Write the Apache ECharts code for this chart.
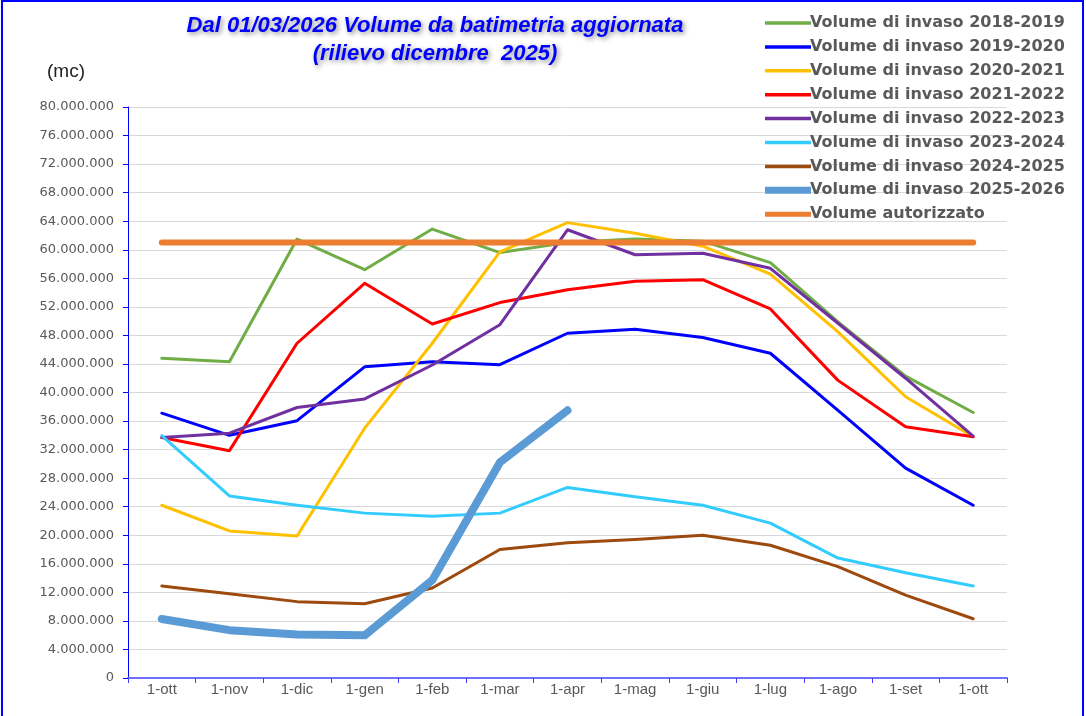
<!DOCTYPE html>
<html>
<head>
<meta charset="utf-8">
<script src="https://cdn.jsdelivr.net/npm/echarts@6/dist/echarts.min.js"></script>
<style>
html,body{margin:0;padding:0;background:#fff;}
#chart{width:1086px;height:716px;}
</style>
</head>
<body>
<div id="chart"></div>
<script>
const categories = ['1-ott','1-nov','1-dic','1-gen','1-feb','1-mar','1-apr','1-mag','1-giu','1-lug','1-ago','1-set','1-ott'];
const yTicks = [0,4000000,8000000,12000000,16000000,20000000,24000000,28000000,32000000,36000000,40000000,44000000,48000000,52000000,56000000,60000000,64000000,68000000,72000000,76000000,80000000];

const s2018 = [44800000,44300000,61500000,57200000,62900000,59600000,61000000,61500000,61200000,58200000,49900000,42300000,37200000];
const s2019 = [37100000,34000000,36050000,43600000,44300000,43900000,48300000,48850000,47700000,45500000,37500000,29400000,24200000];
const s2020 = [24200000,20600000,19900000,35000000,46900000,59700000,63800000,62300000,60500000,56600000,48500000,39400000,33800000];
const s2021 = [33700000,31850000,46900000,55300000,49600000,52600000,54400000,55600000,55800000,51700000,41700000,35200000,33800000];
const s2022 = [33700000,34300000,37900000,39100000,43850000,49500000,62800000,59300000,59500000,57400000,49700000,42000000,33900000];
const s2023 = [33950000,25500000,24200000,23100000,22650000,23100000,26700000,25400000,24200000,21700000,16800000,14750000,12900000];
const s2024 = [12900000,11800000,10700000,10400000,12600000,18000000,18950000,19400000,20000000,18600000,15600000,11600000,8300000];
const s2025 = [8270000,6700000,6100000,5980000,13700000,30200000,37500000,null,null,null,null,null,null];
const autorizzato = [61000000,61000000,61000000,61000000,61000000,61000000,61000000,61000000,61000000,61000000,61000000,61000000,61000000];

const seriesNames = ['Volume di invaso 2018-2019','Volume di invaso 2019-2020','Volume di invaso 2020-2021','Volume di invaso 2021-2022','Volume di invaso 2022-2023','Volume di invaso 2023-2024','Volume di invaso 2024-2025','Volume di invaso 2025-2026','Volume autorizzato'];
const seriesData = [s2018,s2019,s2020,s2021,s2022,s2023,s2024,s2025,autorizzato];
const colors = ['#70AD47','#0000FF','#FFC000','#FF0000','#7030A0','#33CCFF','#9C4A0E','#5B9BD5','#ED7D31'];
const widths = [3,3,3,3,3,3,3,8,6];

function fmt(v){ return String(v).replace(/\B(?=(\d{3})+(?!\d))/g,'.'); }
function iconFor(w){ return 'path://M0,0 L46,0 L46,' + w + ' L0,' + w + ' Z'; }

const chart = echarts.init(document.getElementById('chart'), null, {renderer:'canvas'});
chart.setOption({
  animation:false,
  backgroundColor:'#ffffff',
  graphic:[
    {type:'rect', shape:{x:2,y:1,width:1081,height:720}, style:{fill:'none', stroke:'#0000FF', lineWidth:2}, silent:true},
    {type:'text', left:47, top:62, style:{text:'(mc)', font:'19px "Liberation Sans", sans-serif', fill:'#222'}}
  ],
  title:{
    text:'Dal 01/03/2026 Volume da batimetria aggiornata\n(rilievo dicembre  2025)',
    left:430, top:7, textAlign:'center',
    textStyle:{
      color:'#0000FF', fontStyle:'italic', fontWeight:'bold', fontSize:22, lineHeight:28,
      fontFamily:'"Liberation Sans", sans-serif',
      textShadowColor:'rgba(0,0,0,0.45)', textShadowBlur:5, textShadowOffsetX:2, textShadowOffsetY:2
    }
  },
  legend:{
    orient:'vertical', left:760, top:10,
    itemWidth:46, itemHeight:8, itemGap:7.9, symbolKeepAspect:true,
    textStyle:{color:'#595959', fontWeight:'bold', fontSize:16, fontFamily:'"DejaVu Sans", Verdana, sans-serif', padding:[0,0,0,-6]},
    data: seriesNames.map((n,i)=>({name:n, icon: iconFor(i===7 ? 7 : (i===8 ? 5 : 3.5)), itemStyle:{color:colors[i]}}))
  },
  grid:{left:128, right:79, top:107, bottom:38, containLabel:false},
  xAxis:{
    type:'category', data:categories, boundaryGap:true,
    axisLine:{lineStyle:{color:'#7070FF', width:2}},
    axisTick:{show:true, interval:0, alignWithLabel:false, length:5, lineStyle:{color:'#4040FF'}},
    axisLabel:{interval:0, color:'#595959', fontSize:15, margin:4, fontFamily:'"Liberation Sans", sans-serif'}
  },
  yAxis:{
    type:'value', min:0, max:80000000, interval:4000000,
    axisLine:{show:true, lineStyle:{color:'#0000FF', width:1}},
    axisTick:{show:true, length:5, inside:false, lineStyle:{color:'#0000FF'}},
    axisLabel:{color:'#595959', fontSize:13, margin:14, fontFamily:'"DejaVu Sans", Verdana, sans-serif', formatter:fmt},
    splitLine:{show:true, lineStyle:{color:'#D9D9D9', width:1}}
  },
  series: seriesNames.map((n,i)=>({
    name:n, type:'line', data:seriesData[i], showSymbol:false, symbol:'none',
    connectNulls:false,
    lineStyle:{color:colors[i], width:widths[i], cap:'round', join:'round'},
    itemStyle:{color:colors[i]},
    z: i===8 ? 3 : 2
  }))
});
</script>
</body>
</html>
